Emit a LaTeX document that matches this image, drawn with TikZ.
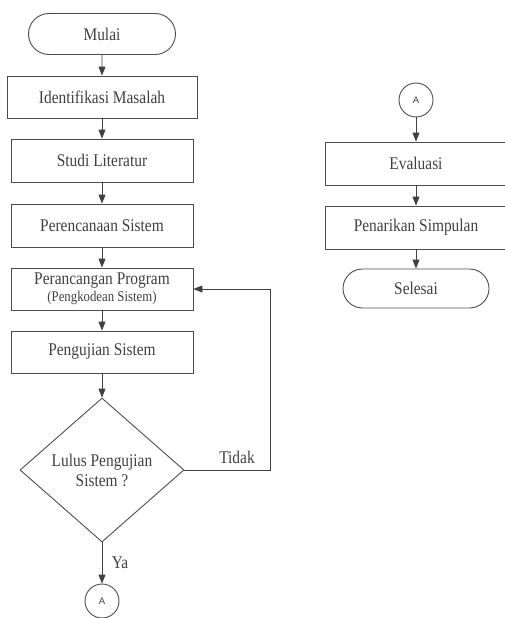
\documentclass[tikz,border=0pt]{standalone}
\usepackage{fontspec}
\usepackage{graphicx}
\setmainfont{Liberation Serif}
\newfontfamily\sansA{Liberation Sans}
\usetikzlibrary{shapes.geometric,shapes.misc,arrows.meta}
\newcommand{\vtx}[1]{\scalebox{1}[1.16]{#1}}
\begin{document}
\begin{tikzpicture}[x=1pt,y=-1pt,
  line width=0.9pt,
  every node/.style={draw=black!70,text=black!75,font=\fontsize{15.4}{17}\selectfont,inner sep=0pt},
  procbox/.style={rectangle,minimum width=182pt,minimum height=43pt},
  term/.style={rounded rectangle,minimum width=147pt,minimum height=41pt},
  conn/.style={circle,minimum size=34pt,font=\sansA\fontsize{9.5}{10}\selectfont},
  decide/.style={diamond,minimum width=164pt,minimum height=144pt,align=center},
  lbl/.style={draw=none},
  arr/.style={draw=black!75,-{Triangle[length=9pt,width=7pt]}}]
\useasboundingbox (0,0) rectangle (505,618);
\clip (0,0) rectangle (505,618);
\node[term] (mulai) at (102,34) {\vtx{Mulai}};
\node[procbox,minimum width=190pt,minimum height=42pt] (idm) at (102,97) {\vtx{Identifikasi Masalah}};
\node[procbox] (studi) at (102,160.5) {\vtx{Studi Literatur}};
\node[procbox] (renc) at (102,225.5) {\vtx{Perencanaan Sistem}};
\node[procbox,minimum height=42pt,align=center] (ranc) at (102,289) {\vtx{Perancangan Program}\\[0pt]{\fontsize{12.8}{14}\selectfont\vtx{(Pengkodean Sistem)}}};
\node[procbox,minimum height=42pt] (uji) at (102,352) {\vtx{Pengujian Sistem}};
\node[decide] (lulus) at (102,470) {\vtx{Lulus Pengujian}\\[3pt]\vtx{Sistem ?}};
\node[conn] (a1) at (102,601) {A};
\coordinate (fbr) at (270,470);
\coordinate (fbt) at (270,289);
\node[lbl] (tidak) at (237,457) {\vtx{Tidak}};
\node[lbl] (ya) at (120,563) {\vtx{Ya}};

\node[conn] (a2) at (416,100) {A};
\node[procbox] (eval) at (416,163.5) {\vtx{Evaluasi}};
\node[procbox] (simp) at (416,227.5) {\vtx{Penarikan Simpulan}};
\node[term,minimum width=146pt,minimum height=39pt] (sel) at (416,288.5) {\vtx{Selesai}};

\draw[arr] (mulai) -- (idm);
\draw[arr] (idm) -- (studi);
\draw[arr] (studi) -- (renc);
\draw[arr] (renc) -- (ranc);
\draw[arr] (ranc) -- (uji);
\draw[arr] (uji) -- (lulus);
\draw[arr] (lulus) -- (a1);
\draw[arr] (lulus.east) -- (fbr) -- (fbt) -- (ranc.east);
\draw[arr] (a2) -- (eval);
\draw[arr] (eval) -- (simp);
\draw[arr] (simp) -- (sel);
\end{tikzpicture}
\end{document}
